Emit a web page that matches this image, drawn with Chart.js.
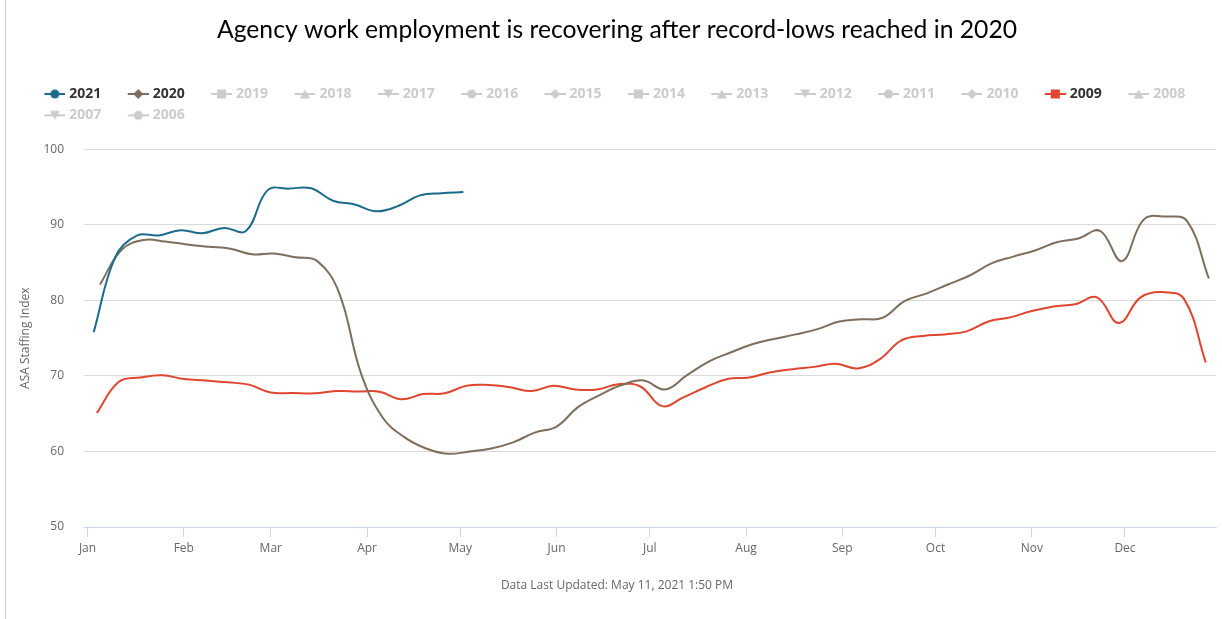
<!DOCTYPE html>
<html>
<head>
<meta charset="utf-8">
<script src="https://cdn.jsdelivr.net/npm/chart.js@4.4.0/dist/chart.umd.min.js"></script>
<style>
  html, body { margin: 0; padding: 0; background: #ffffff; }
  #wrap { width: 1222px; height: 619px; position: relative; }
</style>
</head>
<body>
<div id="wrap"><canvas id="c" width="1222" height="619"></canvas></div>
<script>
// ---------- DATA ----------
const chartTitle = 'Agency work employment is recovering after record-lows reached in 2020';
const footerText = 'Data Last Updated: May 11, 2021 1:50 PM';
const yAxisTitle = 'ASA Staffing Index';
const monthLabels = ['Jan','Feb','Mar','Apr','May','Jun','Jul','Aug','Sep','Oct','Nov','Dec'];
const monthStartDays = [0,31,59,90,120,151,181,212,243,273,304,334];
const yTickValues = [50,60,70,80,90,100];

const legendYears = ['2021','2020','2019','2018','2017','2016','2015','2014','2013','2012','2011','2010','2009','2008','2007','2006'];
const legendShapes = ['circle','diamond','square','triangle','triangle-down','circle','diamond','square','triangle','triangle-down','circle','diamond','square','triangle','triangle-down','circle'];

// weekly values (week ending Sunday); first week's day-of-year
const firstDay2021 = 2;
const values2021 = [75.8,85.8,88.6,88.6,89.3,88.9,89.6,89.2,94.6,94.8,94.85,93.2,92.7,91.8,92.5,93.9,94.2,94.35];

const firstDay2020 = 4;
const values2020 = [82.1,86.7,88.0,87.8,87.4,87.1,86.85,86.1,86.2,85.7,85.2,81.0,70.4,64.5,61.9,60.4,59.7,60.0,60.4,61.2,
                    62.5,63.3,65.9,67.5,68.8,69.4,68.2,70.1,71.9,73.1,74.2,74.9,75.5,76.2,77.2,77.5,77.7,79.9,80.9,82.1,
                    83.3,84.9,85.8,86.6,87.7,88.2,89.2,85.2,90.7,91.1,90.5,82.9];

const firstDay2009 = 3;
const values2009 = [65.1,69.2,69.8,70.1,69.6,69.4,69.15,68.85,67.8,67.75,67.7,68.0,67.95,67.9,66.9,67.6,67.7,68.7,68.8,68.5,
                    68.0,68.7,68.2,68.2,68.9,68.6,66.0,67.2,68.5,69.6,69.8,70.5,70.9,71.2,71.6,71.0,72.2,74.7,75.3,75.5,
                    75.9,77.2,77.75,78.6,79.2,79.5,80.4,77.0,80.4,81.1,80.2,71.8];

const color2021 = '#1b6b8c';
const color2020 = '#7d6e5d';
const color2009 = '#e0452f';
const hiddenColor = '#cccccc';

// ---------- helpers ----------
function weekly(values, firstDay) {
  return values.map((v, i) => ({ x: firstDay + 7 * i, y: v }));
}

const LEG_W = 37;     // pointStyleWidth
const LEG_PAD = 7.35;
function makeIcon(color, shape) {
  const extra = 3;
  const c = document.createElement('canvas');
  c.width = LEG_W + 2 * extra;
  c.height = 12;
  const g = c.getContext('2d');
  const x1 = c.width, x0 = x1 - 21, cx = (x0 + x1) / 2, cy = 6;
  g.strokeStyle = color; g.lineWidth = 2;
  g.beginPath(); g.moveTo(x0, cy); g.lineTo(x1, cy); g.stroke();
  g.fillStyle = color;
  g.beginPath();
  if (shape === 'circle') { g.arc(cx, cy, 4.5, 0, Math.PI * 2); }
  else if (shape === 'diamond') { g.moveTo(cx, cy - 5); g.lineTo(cx + 5, cy); g.lineTo(cx, cy + 5); g.lineTo(cx - 5, cy); g.closePath(); }
  else if (shape === 'square') { g.rect(cx - 4.5, cy - 4.5, 9, 9); }
  else if (shape === 'triangle') { g.moveTo(cx, cy - 4.5); g.lineTo(cx + 5, cy + 4.5); g.lineTo(cx - 5, cy + 4.5); g.closePath(); }
  else if (shape === 'triangle-down') { g.moveTo(cx, cy + 4.5); g.lineTo(cx + 5, cy - 4.5); g.lineTo(cx - 5, cy - 4.5); g.closePath(); }
  g.fill();
  return c;
}
const activeColors = { '2021': color2021, '2020': color2020, '2009': color2009 };

const bgPlugin = {
  id: 'bg',
  beforeDraw(chart) {
    const ctx = chart.ctx;
    ctx.save();
    ctx.fillStyle = '#ffffff';
    ctx.fillRect(0, 0, chart.width, chart.height);
    ctx.strokeStyle = '#d0d0d0';
    ctx.lineWidth = 1;
    ctx.beginPath(); ctx.moveTo(5.5, 0); ctx.lineTo(5.5, chart.height); ctx.stroke();
    ctx.restore();
  }
};
const legendMargin = {
  id: 'legendMargin',
  beforeInit(chart) {
    const orig = chart.legend.fit;
    chart.legend.fit = function () { orig.bind(chart.legend)(); this.height += 17; };
  }
};

new Chart(document.getElementById('c'), {
  type: 'line',
  data: {
    datasets: [
      { label: '2021', data: weekly(values2021, firstDay2021), borderColor: color2021 },
      { label: '2020', data: weekly(values2020, firstDay2020), borderColor: color2020 },
      { label: '2009', data: weekly(values2009, firstDay2009), borderColor: color2009 }
    ].map(d => Object.assign(d, { borderWidth: 2, pointRadius: 0, tension: 0.4, fill: false }))
  },
  options: {
    responsive: false,
    animation: false,
    layout: { padding: { left: 18, right: 6, top: 0, bottom: 0 } },
    plugins: {
      tooltip: { enabled: false },
      title: {
        display: true,
        text: chartTitle,
        color: '#000000',
        font: { family: 'Lato', size: 24.7, weight: 'normal' },
        padding: { top: 15, bottom: 35 }
      },
      subtitle: {
        display: true,
        position: 'bottom',
        text: footerText,
        color: '#666666',
        font: { family: 'Open Sans', size: 12, weight: 'normal' },
        padding: { top: 19.4, bottom: 25.8 }
      },
      legend: {
        display: true,
        position: 'top',
        align: 'start',
        onClick: null,
        labels: {
          usePointStyle: true,
          pointStyleWidth: LEG_W,
          padding: LEG_PAD,
          font: { family: 'Open Sans', size: 14, weight: 'bold' },
          generateLabels() {
            return legendYears.map((y, i) => {
              const col = activeColors[y] || hiddenColor;
              return {
                text: y,
                fillStyle: col, strokeStyle: col, lineWidth: 0,
                pointStyle: makeIcon(col, legendShapes[i]),
                fontColor: activeColors[y] ? '#333333' : hiddenColor,
                hidden: false
              };
            });
          }
        }
      }
    },
    scales: {
      x: {
        type: 'linear',
        min: -1.13,
        max: 363.3,
        grid: { display: true, drawOnChartArea: false, drawTicks: true, tickLength: 10, color: '#ccd6eb' },
        border: { display: true, color: '#ccd6eb', width: 1 },
        afterBuildTicks(scale) { scale.ticks = monthStartDays.map(v => ({ value: v })); },
        ticks: {
          autoSkip: false,
          maxRotation: 0,
          padding: 4,
          color: '#666666',
          font: { family: 'Open Sans', size: 12 },
          callback(value) { const i = monthStartDays.indexOf(value); return i >= 0 ? monthLabels[i] : ''; }
        }
      },
      y: {
        type: 'linear',
        min: 50,
        max: 100,
        afterBuildTicks(scale) { scale.ticks = yTickValues.map(v => ({ value: v })); },
        afterFit(scale) { scale.width = 66; },
        grid: { color: '#d9d9d9', lineWidth: 1, drawTicks: false },
        border: { display: false },
        ticks: { padding: 20, color: '#666666', font: { family: 'Open Sans', size: 12 } },
        title: {
          display: true,
          text: yAxisTitle,
          color: '#666666',
          font: { family: 'Open Sans', size: 12 },
          padding: { top: 0, bottom: 0 }
        }
      }
    }
  },
  plugins: [bgPlugin, legendMargin]
});
</script>
</body>
</html>
